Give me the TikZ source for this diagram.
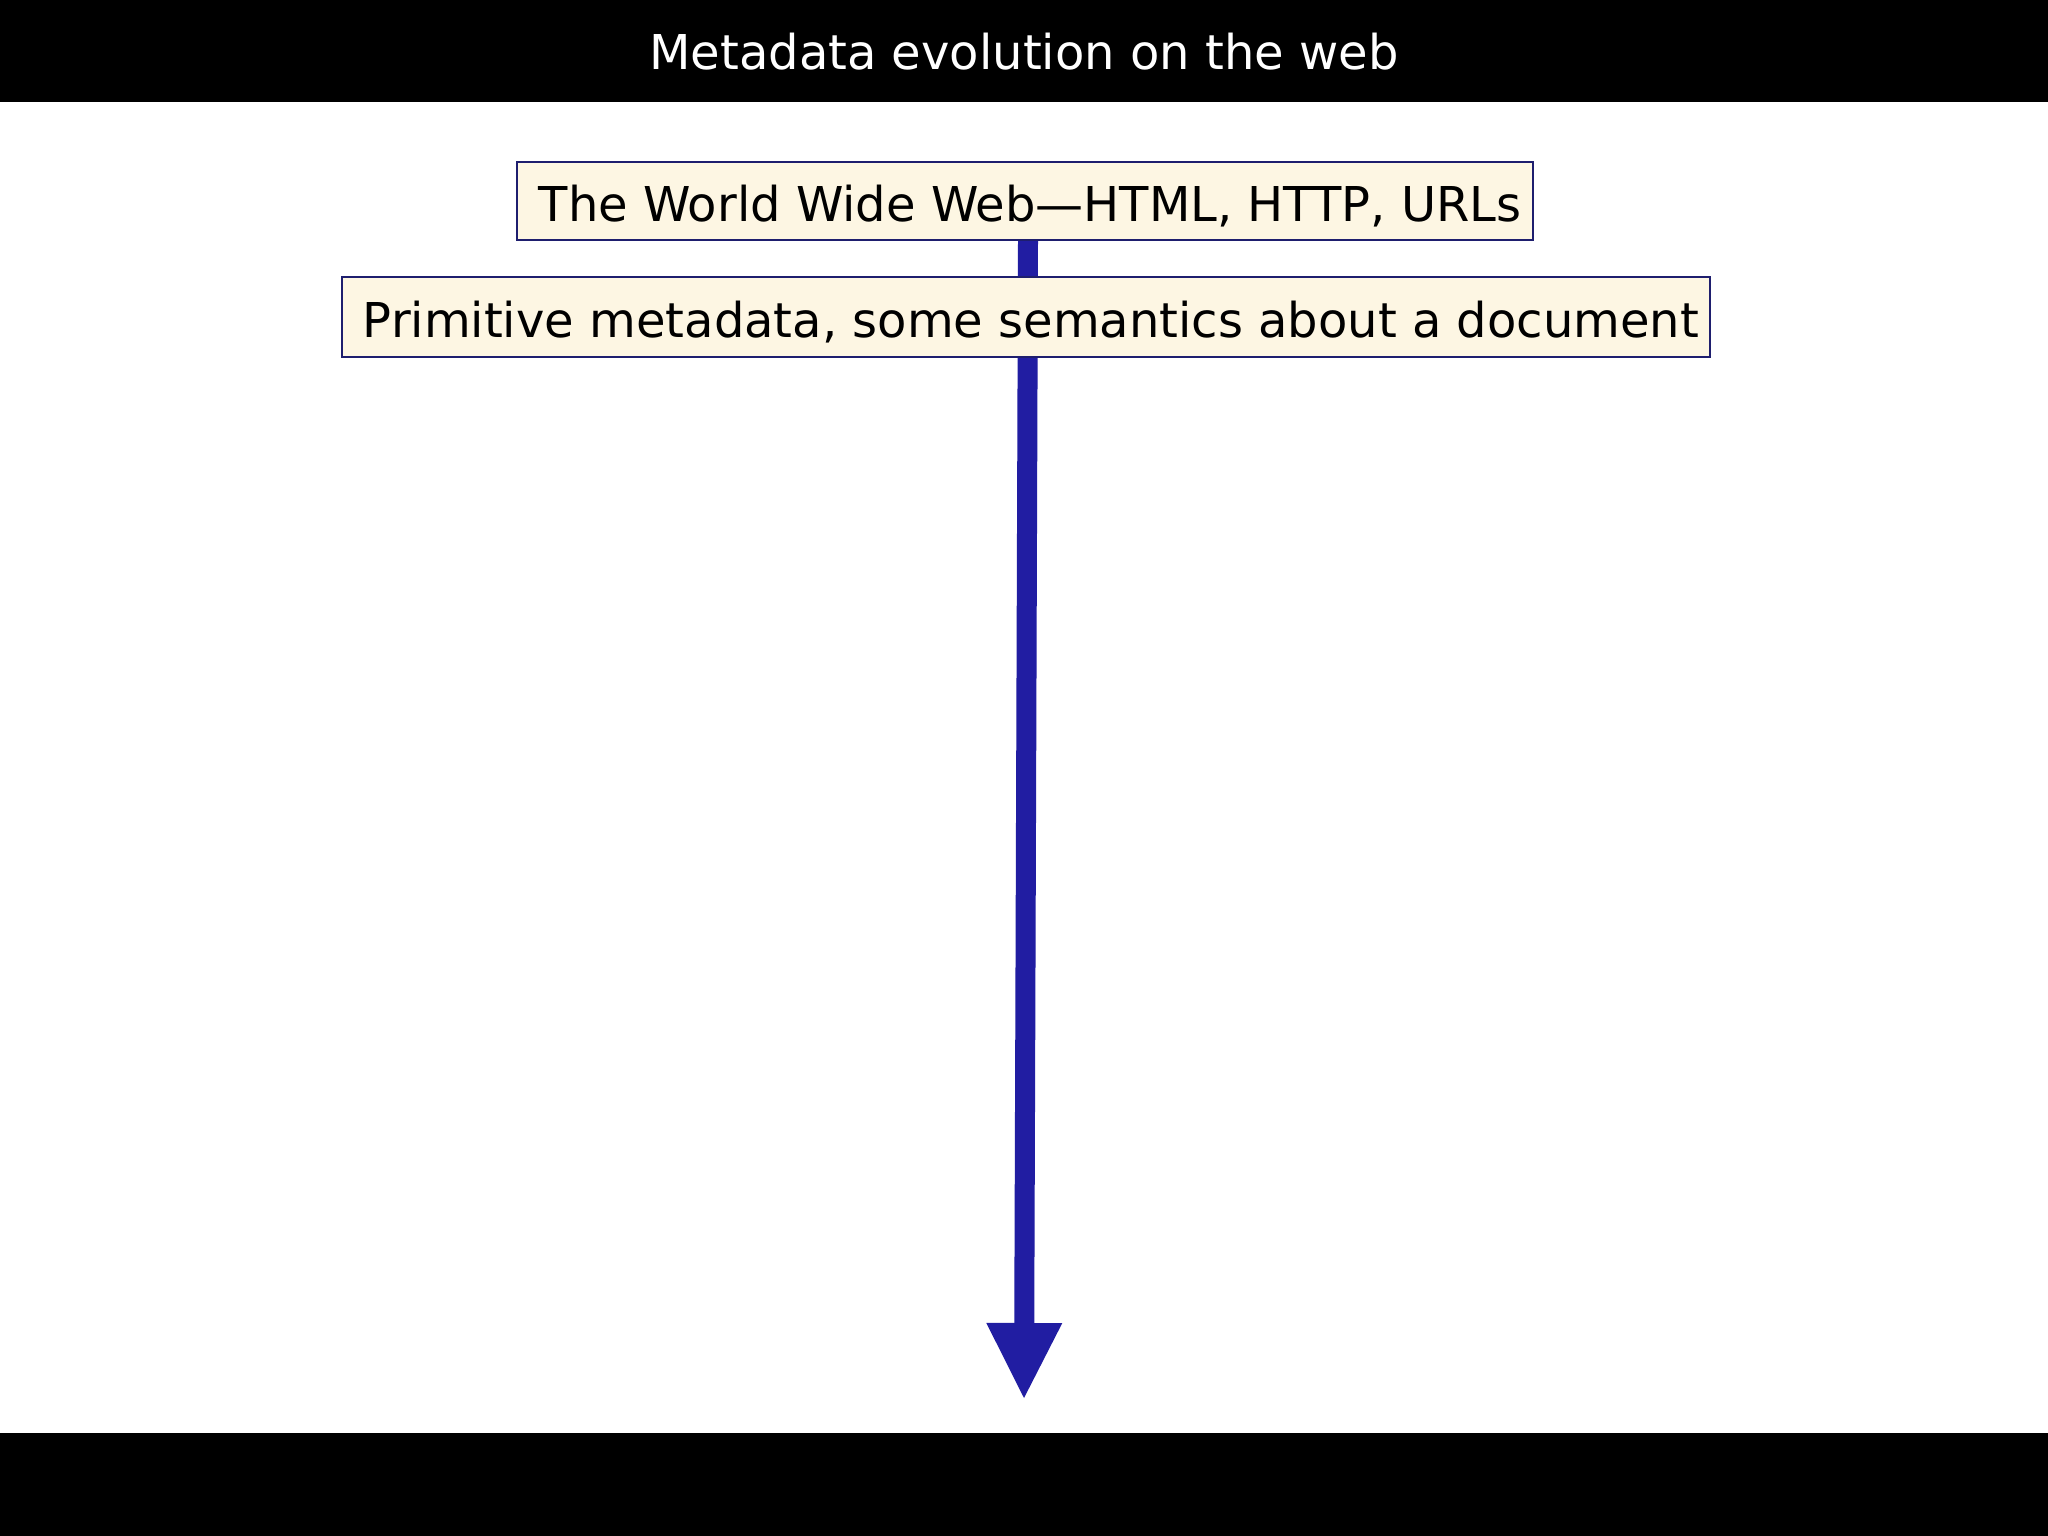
\documentclass[tikz,border=0pt]{standalone}
\usepackage{fontspec}
\setmainfont{DejaVu Sans}
\usetikzlibrary{arrows.meta,backgrounds}
\definecolor{boxfill}{RGB}{253,246,227}
\definecolor{boxline}{RGB}{30,30,110}
\definecolor{arrowblue}{RGB}{33,29,162}
\newcommand{\boxtext}[1]{\hspace*{10pt}\raisebox{-20pt}[0pt][0pt]{#1}}
\tikzset{
  bar/.style={fill=black,draw=none},
  title/.style={text=white,font=\fontsize{48}{56}\selectfont,inner sep=0pt},
  stagebox/.style={fill=boxfill,draw=boxline,line width=1.5pt,inner sep=0pt,
    font=\fontsize{48}{56}\selectfont,text=black},
  flow/.style={draw=arrowblue,line width=20pt,
    -{Triangle[length=75pt,width=76pt,line width=0pt,fill=arrowblue]}}
}
\begin{document}
\begin{tikzpicture}[x=1pt,y=-1pt]
\useasboundingbox (0,0) rectangle (2048,1536);
\fill[bar] (0,0) rectangle (2048,102);
\fill[bar] (0,1433) rectangle (2048,1536);
\node[title] (ttl) at (1024,52) {Metadata evolution on the web};
\node[stagebox,minimum width=1016pt,minimum height=78pt] (web) at (1025,201)
  {\boxtext{The World Wide Web—HTML, HTTP, URLs}};
\node[stagebox,minimum width=1368pt,minimum height=80pt] (meta) at (1026,317)
  {\boxtext{Primitive metadata, some semantics about a document}};
\coordinate (tip) at (1024,1398);
\begin{pgfonlayer}{background}
\fill[white] (0,102) rectangle (2048,1433);
\draw[flow] ([xshift=3pt]web.south) -- (tip);
\end{pgfonlayer}
\end{tikzpicture}
\end{document}
